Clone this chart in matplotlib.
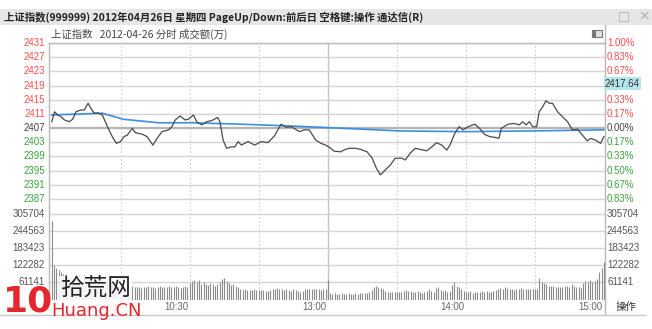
#!/usr/bin/env python
# Intraday chart of the Shanghai index (999999) on 2012-04-26, TDX style

import matplotlib
matplotlib.use("Agg")
import matplotlib.pyplot as plt
from matplotlib.patches import Rectangle

plt.rcParams['font.family'] = ['Noto Sans CJK SC', 'DejaVu Sans']

# Data
prev_close = 2407
price_ticks = [2431, 2427, 2423, 2419, 2415, 2411, 2407, 2403, 2399, 2395, 2391, 2387]
pct_labels = ['1.00%', '0.83%', '0.67%', '0.50%', '0.33%', '0.17%', '0.00%',
              '0.17%', '0.33%', '0.50%', '0.67%', '0.83%']
vol_ticks = [61141, 122282, 183423, 244563, 305704]
time_ticks = [60, 120, 180, 240]
time_labels = ['10:30', '13:00', '14:00', '15:00']
cursor_price = '2417.64'

# minute since 9:30 (lunch break removed) and last price
price_min = [0, 1.2, 2.6, 4.0, 5.5, 7.6, 9.1, 10.5, 12.6, 14.1, 15.8, 17.0, 18.4, 19.9,
             22.0, 24.2, 26.3, 28.1, 29.9, 31.4, 32.8, 35.0, 36.4, 39.3, 41.4, 44.0,
             45.8, 47.9, 50.8, 52.2, 53.7, 55.8, 58.0, 59.4, 61.6, 63.0, 65.2, 67.3,
             69.5, 72.1, 73.1, 74.5, 76.0, 78.1, 79.6, 81.0, 82.4, 85.3, 88.2, 91.1,
             94.0, 96.8, 99.7, 101.9, 104.0, 105.4, 107.6, 109.8, 111.9, 113.4, 114.8,
             117.0, 119.1, 121.3, 122.7, 125.6, 127.0, 129.2, 132.1, 134.2, 137.1,
             139.3, 141.1, 142.9, 145.0, 147.2, 149.3, 152.2, 153.7, 155.8, 158.0,
             160.1, 163.0, 165.2, 167.3, 169.5, 171.7, 173.1, 175.2, 177.1, 178.8,
             181.0, 183.9, 186.0, 188.2, 190.4, 192.5, 194.4, 195.4, 198.3, 201.1,
             203.3, 204.7, 206.2, 207.6, 209.1, 210.8, 211.9, 213.4, 214.8, 216.3,
             217.7, 219.9, 222.0, 224.2, 226.3, 228.5, 230.7, 232.8, 234.3, 236.4,
             238.6, 240]
price = [2408.8, 2411.6, 2410.7, 2410.2, 2409.3, 2408.8, 2409.5, 2411.6, 2412.1, 2412.1,
         2414.0, 2412.6, 2411.2, 2411.3, 2410.7, 2407.4, 2404.6, 2402.7, 2403.2, 2404.6,
         2405.0, 2406.9, 2405.7, 2405.3, 2404.6, 2402.2, 2404.1, 2406.0, 2406.5, 2407.4,
         2409.3, 2410.4, 2409.3, 2409.5, 2410.7, 2408.8, 2407.9, 2408.8, 2409.1, 2410.0,
         2408.8, 2403.6, 2401.3, 2401.7, 2401.7, 2403.2, 2402.2, 2403.2, 2402.2, 2403.2,
         2402.9, 2404.8, 2408.1, 2407.2, 2407.4, 2406.9, 2406.0, 2406.5, 2406.5, 2405.0,
         2403.6, 2402.7, 2402.2, 2401.3, 2400.5, 2400.3, 2400.8, 2401.3, 2401.3, 2401.0,
         2400.3, 2398.5, 2395.7, 2393.8, 2395.2, 2396.6, 2398.5, 2398.5, 2398.0, 2399.9,
         2401.3, 2401.0, 2400.6, 2401.7, 2402.9, 2402.2, 2400.8, 2402.2, 2405.5, 2407.4,
         2406.5, 2407.4, 2408.1, 2406.9, 2405.2, 2404.6, 2404.4, 2404.1, 2406.9, 2408.1,
         2408.3, 2407.9, 2408.8, 2407.9, 2408.8, 2407.4, 2407.4, 2411.6, 2413.0, 2414.7,
         2414.0, 2414.0, 2411.6, 2410.2, 2408.8, 2406.5, 2406.7, 2405.0, 2403.4, 2404.1,
         2403.6, 2402.7, 2404.6]

# average price line
avg_min = [0, 22, 31, 46.5, 60.9, 82.4, 104, 128, 151.5, 180, 209, 240]
avg_price = [2410.7, 2411.2, 2409.5, 2408.5, 2408.5, 2408.1, 2407.6, 2406.9, 2406.2,
             2406.0, 2406.2, 2406.5]

# turnover per minute (万)
volume = [281000,
          123000, 112000, 106000, 98000, 92000, 88000, 84000, 80000, 78000,
          82000, 76000, 86000, 74000, 88000, 79000, 72000, 84000, 70000, 66000,
          68000, 62000, 74000, 60000, 58000, 64000, 55000, 52000, 50000, 48000,
          46000, 50000, 44000, 47000, 45000, 49000, 43000, 46000, 44000, 42000,
          45000, 43000, 47000, 44000, 46000, 42000, 45000, 48000, 44000, 46000,
          43000, 47000, 45000, 44000, 48000, 46000, 42000, 45000, 47000, 44000,
          58000, 66000, 70000, 62000, 68000, 57000, 63000, 55000, 52000, 58000,
          54000, 50000, 56000, 62000, 72000, 78000, 66000, 58000, 52000, 56000,
          48000, 44000, 36000, 34000, 38000, 33000, 35000, 34000, 36000, 33000,
          34000, 35000, 33000, 30000, 29000, 34000, 38000, 39000, 40000, 37000,
          39000, 33000, 38000, 35000, 31000, 36000, 34000, 30000, 28000, 29000,
          36000, 37000, 38000, 39000, 37000, 38000, 36000, 35000, 37000, 36000,
          68000,
          24000, 21000, 22000, 20000, 21000, 22000, 20000, 21000, 22000,
          21000, 20000, 22000, 21000, 23000, 22000, 24000, 23000, 26000, 34000,
          44000, 48000, 46000, 40000, 36000, 30000, 28000, 27000, 28000, 26000,
          27000, 26000, 28000, 31000, 33000, 32000, 31000, 28000, 27000, 29000,
          26000, 25000, 27000, 32000, 36000, 30000, 28000, 40000, 46000, 34000,
          30000, 33000, 28000, 31000, 52000, 64000, 48000, 44000, 36000, 30000,
          28000, 26000, 29000, 25000, 28000, 27000, 26000, 29000, 27000, 30000,
          28000, 27000, 31000, 34000, 37000, 41000, 39000, 44000, 42000, 38000,
          36000, 34000, 39000, 38000, 40000, 37000, 39000, 38000, 36000, 37000,
          38000, 39000, 76000, 64000, 58000, 55000, 50000, 48000, 47000, 44000,
          45000, 43000, 46000, 49000, 47000, 44000, 55000, 48000, 43000, 45000,
          42000, 60000, 66000, 62000, 68000, 64000, 66000, 72000, 98000, 114000,
          133000]

W, H = 652, 329
RED = '#ff4d4d'
GREEN = '#3aa53a'
GRAY = '#555555'
GRID = '#d4d4d4'


def fx(px):
    return px / W


def fy(py):
    return 1 - py / H


fig = plt.figure(figsize=(W / 100, H / 100), dpi=100)
fig.patch.set_facecolor('white')

# panel geometry in pixels
left, right = 49, 605
p_top, split, v_bot = 43, 206.5, 299.5
px_per_pt = (199 - 43) / 44.0
vol_per_px = 305704 / (v_bot - 214)
x0, x1 = -1.2, 240.5          # small gap after the left border, last bar on the edge


def mx(m):
    # minute -> pixel x
    return left + (m - x0) * (right - left) / (x1 - x0)


ax = fig.add_axes([fx(left), fy(split), fx(right - left), (split - p_top) / H])
axv = fig.add_axes([fx(left), fy(v_bot), fx(right - left), (v_bot - split) / H])

ax.set_xlim(x0, x1)
ax.set_ylim(2431 - (split - p_top) / px_per_pt, 2431)
axv.set_xlim(x0, x1)
axv.set_ylim(0, (v_bot - split) * vol_per_px)

for a in (ax, axv):
    a.set_xticks([])
    a.set_yticks([])
    for s in ('top', 'bottom'):
        a.spines[s].set_visible(False)
    for s in ('left', 'right'):
        a.spines[s].set_color('#b8b8b8')
        a.spines[s].set_linewidth(1.0)
    for m in (30, 60, 90, 150, 180, 210):
        a.axvline(m, color='#cfcfcf', lw=0.8, ls=(0, (1.5, 2)), zorder=1)
    a.axvline(120, color='#c4c4c4', lw=1.0, zorder=1)

for t in price_ticks:
    lw, c = (1.6, '#b4b4b4') if t == prev_close else (1.0, GRID)
    ax.axhline(t, color=c, lw=lw, zorder=1)
for v in vol_ticks:
    axv.axhline(v, color=GRID, lw=1.0, zorder=1)

ax.plot(avg_min, avg_price, color='#3d8fe0', lw=1.2, zorder=3)
ax.plot(price_min, price, color='#4a4a4a', lw=0.9, zorder=4)

axv.vlines(range(len(volume)), 0, volume, colors='#8c8c8c', lw=0.8, zorder=3)

# price / percent labels
for t, p in zip(price_ticks, pct_labels):
    c = RED if t > prev_close else (GREEN if t < prev_close else '#444444')
    y = p_top + (2431 - t) * px_per_pt
    fig.text(fx(45), fy(y), str(t), ha='right', va='center', fontsize=7,
             color=c, family='Liberation Sans')
    if p != '0.50%' or t < prev_close:
        fig.text(fx(607), fy(y), p, ha='left', va='center', fontsize=7,
                 color=c, family='Liberation Sans')

# cursor price box on the right axis
cy = p_top + (2431 - 2419) * px_per_pt
fig.text(fx(605), fy(cy - 2), cursor_price, ha='left', va='center', fontsize=7,
         color='#333333', family='Liberation Sans',
         bbox=dict(boxstyle='square,pad=0.15', fc='#b4e6ec', ec='none'))

for v in vol_ticks:
    y = v_bot - v / vol_per_px
    fig.text(fx(45), fy(y), str(v), ha='right', va='center', fontsize=7,
             color=GRAY, family='Liberation Sans')
    fig.text(fx(607), fy(y), str(v), ha='left', va='center', fontsize=7,
             color=GRAY, family='Liberation Sans')

for m, lab in zip(time_ticks, time_labels):
    fig.text(fx(mx(m) - 1), fy(307), lab, ha='right', va='center', fontsize=7,
             color='#666666', family='Liberation Sans')

# frame lines
fig.add_artist(plt.Line2D([fx(left), fx(right)], [fy(p_top), fy(p_top)],
                          color='#b8b8b8', lw=1.0))
fig.add_artist(plt.Line2D([fx(right), fx(right)], [fy(25), fy(p_top)],
                          color='#b8b8b8', lw=1.0))
fig.add_artist(plt.Line2D([fx(right), fx(right)], [fy(v_bot), fy(314)],
                          color='#b8b8b8', lw=1.0))
fig.add_artist(plt.Line2D([0, fx(645)], [fy(315), fy(315)], color='#c8c8c8', lw=1.0))

# title bar
fig.patches.append(Rectangle((0, fy(25)), 1, (25 - 9) / H, transform=fig.transFigure,
                             fc='#e6e6e6', ec='none', zorder=0))
fig.text(fx(4), fy(17), '上证指数(999999) 2012年04月26日 星期四 PageUp/Down:前后日 空格键:操作 通达信(R)',
         ha='left', va='center', fontsize=7.5, fontweight='bold', color='#222222')
fig.text(fx(624), fy(16), '□', ha='center', va='center', fontsize=9, color='#b0b0b0',
         family=['DejaVu Sans'])
fig.text(fx(644), fy(16), '×', ha='center', va='center', fontsize=10, color='#b0b0b0',
         family=['DejaVu Sans'])

fig.text(fx(51), fy(34), '上证指数   2012-04-26 分时 成交额(万)', ha='left', va='center',
         fontsize=7.5, color='#444444')
fig.patches.append(Rectangle((fx(592), fy(37)), fx(10), 7 / H, transform=fig.transFigure,
                             fc='#e0e0e0', ec='#777777', lw=0.8))
fig.patches.append(Rectangle((fx(592), fy(37)), fx(4), 7 / H, transform=fig.transFigure,
                             fc='#777777', ec='none'))

fig.text(fx(626), fy(307), '操作', ha='center', va='center', fontsize=7.5, color='#333333')

# watermark
fig.text(fx(60), fy(289), '拾荒网', ha='left', va='center', fontsize=17, color='#222222',
         bbox=dict(boxstyle='square,pad=0.05', fc='white', ec='none', alpha=0.85))
fig.text(fx(3), fy(301), '10', ha='left', va='center', fontsize=26, fontweight='bold',
         color='#e5262d', family=['DejaVu Sans'])
fig.text(fx(51), fy(311), 'Huang.CN', ha='left', va='center', fontsize=13,
         color='#e5262d', family=['DejaVu Sans'])

fig.savefig('out.png', dpi=100)
